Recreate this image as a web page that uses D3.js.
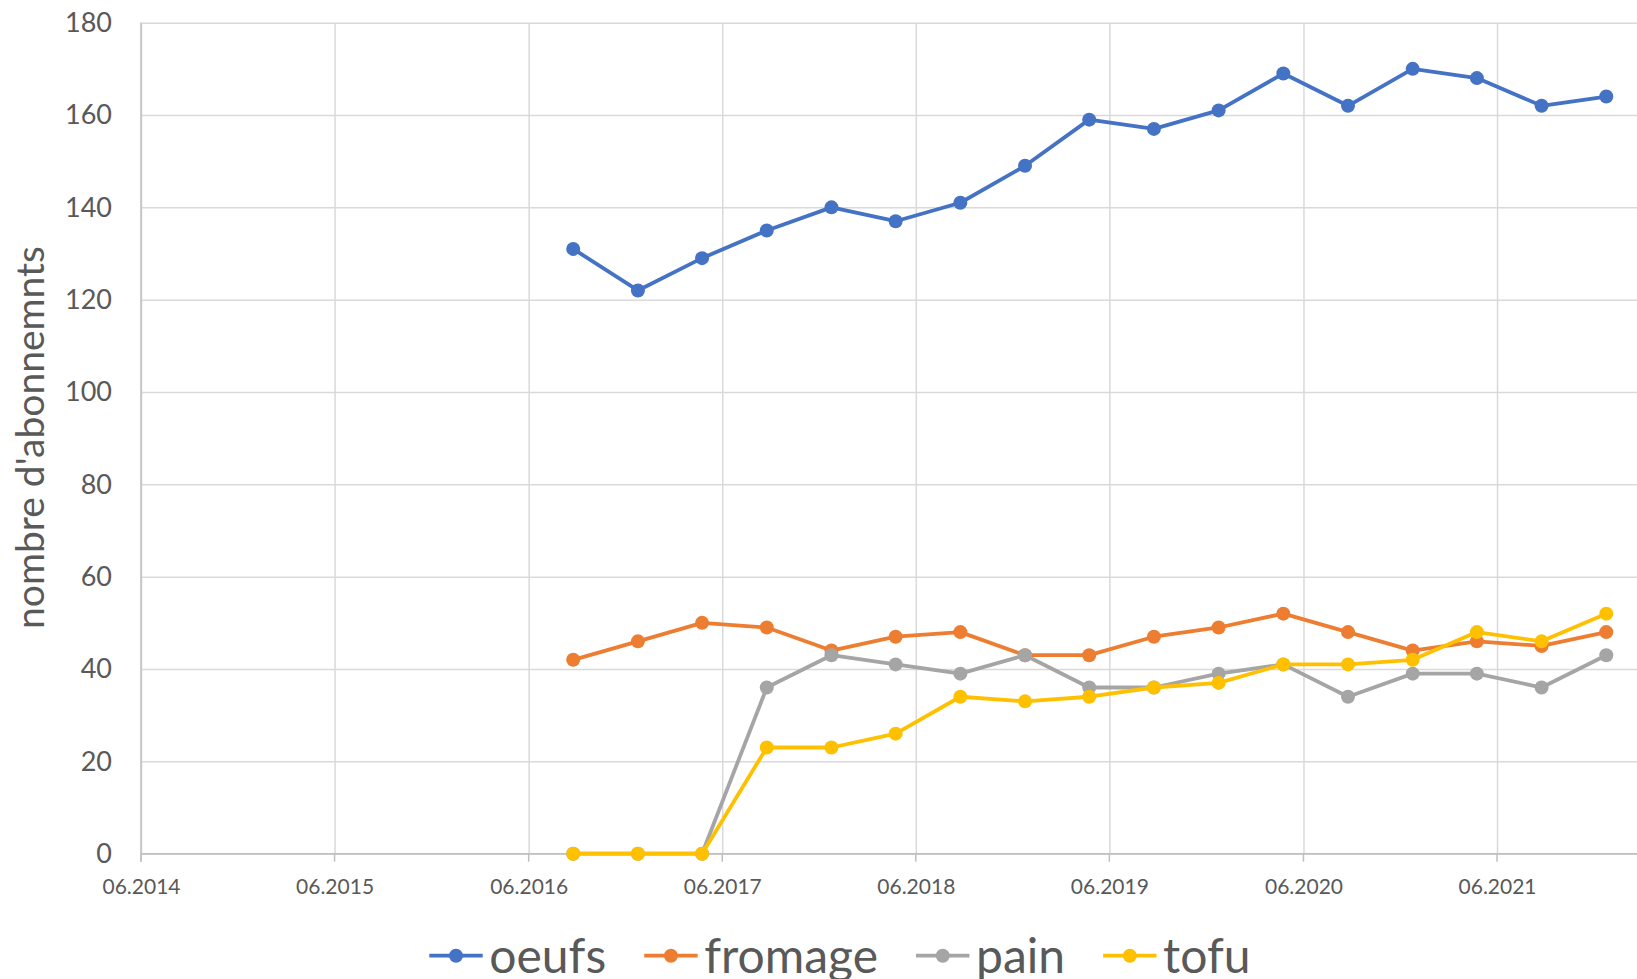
<!DOCTYPE html>
<html>
<head>
<meta charset="utf-8">
<script src="https://cdn.jsdelivr.net/npm/d3@7"></script>
<style>
  html, body { margin: 0; padding: 0; background: #fff; overflow: hidden; }
  svg { display: block; font-family: Lato, "Open Sans", sans-serif; }
</style>
</head>
<body>
<div id="chart"></div>
<script>
// data
var dates = ["2016-08-24", "2016-12-24", "2017-04-24", "2017-08-24", "2017-12-24", "2018-04-24",
  "2018-08-24", "2018-12-24", "2019-04-24", "2019-08-24", "2019-12-24", "2020-04-24",
  "2020-08-24", "2020-12-24", "2021-04-24", "2021-08-24", "2021-12-24"];
var oeufs = [131, 122, 129, 135, 140, 137, 141, 149, 159, 157, 161, 169, 162, 170, 168, 162, 164];
var fromage = [42, 46, 50, 49, 44, 47, 48, 43, 43, 47, 49, 52, 48, 44, 46, 45, 48];
var pain = [0, 0, 0, 36, 43, 41, 39, 43, 36, 36, 39, 41, 34, 39, 39, 36, 43];
var tofu = [0, 0, 0, 23, 23, 26, 34, 33, 34, 36, 37, 41, 41, 42, 48, 46, 52];
var seriesNames = ["oeufs", "fromage", "pain", "tofu"];
var seriesColors = ["#4472C4", "#ED7D31", "#A5A5A5", "#FFC000"];
var xTickLabels = ["06.2014", "06.2015", "06.2016", "06.2017", "06.2018", "06.2019", "06.2020", "06.2021"];
var yTicks = [0, 20, 40, 60, 80, 100, 120, 140, 160, 180];
var yTitle = "nombre d'abonnemnts";

var width = 1637, height = 979;
var plotLeft = 141, plotTop = 22.7, plotBottom = 853.7, yearPx = 193.7;

var parseDay = d3.timeParse("%Y-%m-%d");
var parseTick = d3.timeParse("%m.%Y");
var fmtTick = d3.timeFormat("%m.%Y");

var svg = d3.select("#chart").append("svg")
  .attr("width", width)
  .attr("height", height);

var x = d3.scaleTime()
  .domain([parseTick("06.2014"), parseTick("06.2022")])
  .range([plotLeft, plotLeft + 8 * yearPx]);

var y = d3.scaleLinear()
  .domain([0, 180])
  .range([plotBottom, plotTop]);

// horizontal gridlines + y labels
var yAxis = d3.axisLeft(y)
  .tickValues(yTicks)
  .tickSize(-(width - plotLeft))
  .tickPadding(29);

svg.append("g")
  .attr("class", "y-axis")
  .attr("transform", "translate(" + plotLeft + ",0)")
  .call(yAxis)
  .call(function(g) {
    g.select(".domain").remove();
    g.selectAll(".tick line").style("stroke", "#d9d9d9").style("stroke-width", 1.5);
    g.selectAll(".tick text")
      .style("fill", "#595959")
      .style("font-size", "27px")
      .style("font-family", "Lato, sans-serif");
  });

// vertical gridlines + x labels
var tickDates = xTickLabels.map(parseTick);
var xAxis = d3.axisBottom(x)
  .tickValues(tickDates)
  .tickFormat(fmtTick)
  .tickSize(-(plotBottom - plotTop))
  .tickPadding(25);

svg.append("g")
  .attr("class", "x-axis")
  .attr("transform", "translate(0," + plotBottom + ")")
  .call(xAxis)
  .call(function(g) {
    g.select(".domain").remove();
    g.selectAll(".tick line").style("stroke", "#d9d9d9").style("stroke-width", 1.5);
    g.selectAll(".tick text")
      .style("fill", "#595959")
      .style("font-size", "21px")
      .style("font-family", "Lato, sans-serif");
  });

// small tick marks below the axis
svg.append("g")
  .selectAll("line")
  .data(tickDates)
  .join("line")
  .attr("x1", function(d) { return x(d); })
  .attr("x2", function(d) { return x(d); })
  .attr("y1", plotBottom)
  .attr("y2", plotBottom + 8)
  .style("stroke", "#bfbfbf")
  .style("stroke-width", 1.5);

// axis lines
svg.append("line")
  .attr("x1", plotLeft).attr("x2", width)
  .attr("y1", plotBottom).attr("y2", plotBottom)
  .style("stroke", "#bfbfbf").style("stroke-width", 1.5);
svg.append("line")
  .attr("x1", plotLeft).attr("x2", plotLeft)
  .attr("y1", plotTop).attr("y2", plotBottom + 8)
  .style("stroke", "#bfbfbf").style("stroke-width", 1.5);

// y title
svg.append("text")
  .attr("transform", "translate(43.5," + 437.5 + ") rotate(-90)")
  .attr("text-anchor", "middle")
  .style("fill", "#595959")
  .style("font-size", "39px")
  .text(yTitle);

// series
var allSeries = [oeufs, fromage, pain, tofu];
var line = d3.line()
  .x(function(d, i) { return x(parseDay(dates[i])); })
  .y(function(d) { return y(d); });

allSeries.forEach(function(values, s) {
  var g = svg.append("g").attr("class", "series");
  g.append("path")
    .datum(values)
    .attr("d", line)
    .style("fill", "none")
    .style("stroke", seriesColors[s])
    .style("stroke-width", 3.8)
    .style("stroke-linejoin", "round");
  g.selectAll("circle")
    .data(values)
    .join("circle")
    .attr("cx", function(d, i) { return x(parseDay(dates[i])); })
    .attr("cy", function(d) { return y(d); })
    .attr("r", 7)
    .style("fill", seriesColors[s]);
});

// legend
var legend = svg.append("g").attr("class", "legend");
var lx = 429.3, lineY = 955.7, baseY = 972.5;
seriesNames.forEach(function(name, s) {
  var item = legend.append("g");
  item.append("line")
    .attr("x1", lx).attr("x2", lx + 53.4)
    .attr("y1", lineY).attr("y2", lineY)
    .style("stroke", seriesColors[s])
    .style("stroke-width", 3.8);
  item.append("circle")
    .attr("cx", lx + 26.7).attr("cy", lineY)
    .attr("r", 7)
    .style("fill", seriesColors[s]);
  var t = item.append("text")
    .attr("x", lx + 60)
    .attr("y", baseY)
    .style("fill", "#595959")
    .style("font-size", "48px")
    .text(name);
  lx = lx + 60 + t.node().getComputedTextLength() + 38;
});
</script>
</body>
</html>
